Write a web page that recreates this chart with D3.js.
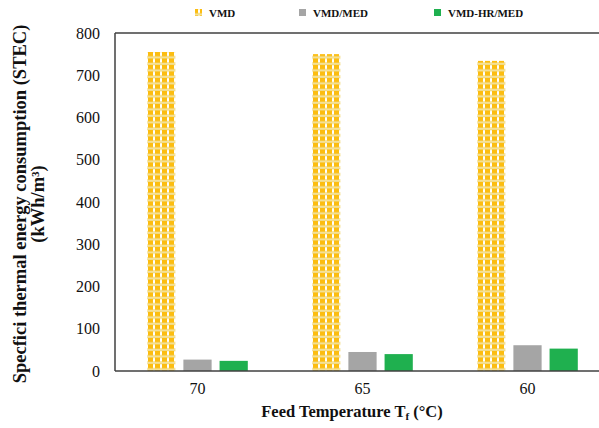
<!DOCTYPE html>
<html>
<head>
<meta charset="utf-8">
<script src="https://cdn.jsdelivr.net/npm/d3@7"></script>
<style>
  html, body { margin: 0; padding: 0; background: #fff; }
  svg { display: block; }
  svg text { font-family: "Liberation Serif", "Times New Roman", Times, "DejaVu Serif", serif !important; }
</style>
</head>
<body>
<svg id="chart" width="599" height="428"></svg>
<script>
// Specific thermal energy consumption by feed temperature
const categories = ["70", "65", "60"];
const seriesNames = ["VMD", "VMD/MED", "VMD-HR/MED"];
const vmdValues = [755, 750, 734];
const vmdMedValues = [27, 45, 61];
const vmdHrMedValues = [24, 40, 53];
const yTicks = [0, 100, 200, 300, 400, 500, 600, 700, 800];

const seriesValues = [vmdValues, vmdMedValues, vmdHrMedValues];
const colors = ["url(#plaid)", "#a5a5a5", "#1fb04f"];

const svg = d3.select("#chart");
const margin = { left: 115, top: 33, right: -11, bottom: 57 };
const W = 599, H = 428;

// plaid fill for the VMD bars
const defs = svg.append("defs");
const pat = defs.append("pattern")
  .attr("id", "plaid").attr("patternUnits", "userSpaceOnUse")
  .attr("width", 7).attr("height", 6.5);
pat.append("rect").attr("width", 7).attr("height", 6.5).attr("fill", "#f1d77a");
pat.append("rect").attr("x", 0).attr("y", 0).attr("width", 3).attr("height", 4.2).attr("fill", "#fcbd10");
pat.append("rect").attr("x", 3).attr("y", 0.3).attr("width", 2).attr("height", 3.6).attr("fill", "#ffffff");
pat.append("rect").attr("x", 5).attr("y", 0).attr("width", 2).attr("height", 4.2).attr("fill", "#fcbd10");
pat.append("rect").attr("x", 0).attr("y", 4.8).attr("width", 7).attr("height", 1).attr("fill", "#f7e7a6");

const x0 = d3.scaleBand().domain(categories)
  .range([margin.left, W - margin.right]).paddingInner(0).paddingOuter(0);
const x1 = d3.scaleBand().domain(seriesNames)
  .range([0, x0.bandwidth()]).paddingInner(0.22).paddingOuter(0.89);
const y = d3.scaleLinear().domain([0, 800]).range([H - margin.bottom, margin.top]);

// bars
const groups = svg.append("g").selectAll("g")
  .data(categories).join("g")
  .attr("transform", c => `translate(${x0(c)},0)`);
groups.selectAll("rect")
  .data((c, i) => seriesNames.map((s, k) => ({ s, k, v: seriesValues[k][i] })))
  .join("rect")
  .attr("x", d => x1(d.s))
  .attr("y", d => y(d.v))
  .attr("width", x1.bandwidth())
  .attr("height", d => y(0) - y(d.v))
  .attr("fill", d => colors[d.k]);

// frame lines
const lineColor = "#404040";
svg.append("line").attr("x1", margin.left).attr("x2", W).attr("y1", y(0)).attr("y2", y(0))
  .attr("stroke", lineColor).attr("stroke-width", 1.5);
svg.append("line").attr("x1", margin.left).attr("x2", W).attr("y1", y(800)).attr("y2", y(800))
  .attr("stroke", lineColor).attr("stroke-width", 1.5);
svg.append("line").attr("x1", margin.left).attr("x2", margin.left).attr("y1", y(0)).attr("y2", y(800))
  .attr("stroke", lineColor).attr("stroke-width", 1.5);

// y axis labels
const yAxis = d3.axisLeft(y).tickValues(yTicks).tickSize(0).tickPadding(15);
const gy = svg.append("g").attr("transform", `translate(${margin.left},0)`).call(yAxis);
gy.select(".domain").remove();
gy.selectAll("text").attr("font-size", 16).attr("fill", "#111");

// x axis labels
const xAxis = d3.axisBottom(x0).tickSize(0).tickPadding(12);
const gx = svg.append("g").attr("transform", `translate(0,${y(0)})`).call(xAxis);
gx.select(".domain").remove();
gx.selectAll("text").attr("font-size", 16).attr("fill", "#111");

// axis titles
const xt = svg.append("text").attr("x", 352).attr("y", 417)
  .attr("text-anchor", "middle").attr("font-size", 16.5).attr("font-weight", "bold").attr("fill", "#111");
xt.append("tspan").text("Feed Temperature T");
xt.append("tspan").attr("font-size", 11).attr("dy", 3).text("f");
xt.append("tspan").attr("dy", -3).text(" (°C)");

const yt = svg.append("text").attr("transform", "translate(26,204) rotate(-90)")
  .attr("text-anchor", "middle").attr("font-size", 18.5).attr("font-weight", "bold").attr("fill", "#111");
yt.append("tspan").attr("x", 0).attr("y", 0).text("Specfici thermal energy consumption (STEC)");
yt.append("tspan").attr("x", 0).attr("y", 18).text("(kWh/m³)");

// legend
const legendX = [195, 299, 434];
const leg = svg.append("g").selectAll("g").data(seriesNames).join("g")
  .attr("transform", (d, i) => `translate(${legendX[i]},9)`);
leg.append("rect").attr("width", 7).attr("height", 7).attr("fill", (d, i) => colors[i]);
leg.append("text").attr("x", 14).attr("y", 7.5).attr("font-size", 11).attr("font-weight", "bold")
  .attr("fill", "#111").text(d => d);
</script>
</body>
</html>
